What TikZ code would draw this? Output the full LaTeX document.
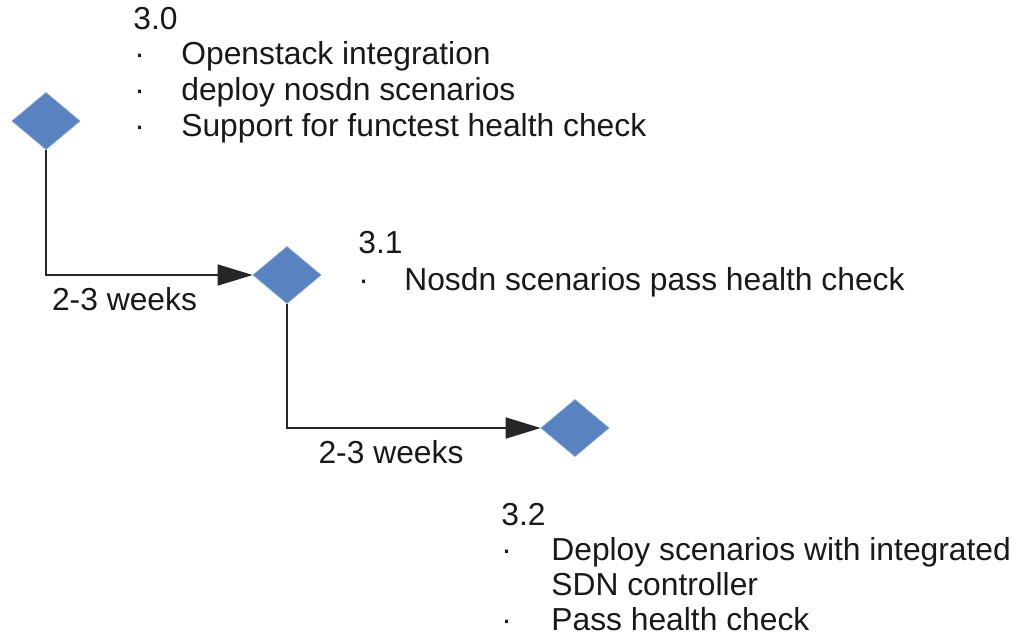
\documentclass[tikz,border=0pt]{standalone}
\usepackage{fontspec}
\setmainfont{Liberation Sans}
\usetikzlibrary{arrows.meta,shapes.geometric}

\definecolor{msfill}{RGB}{88,131,192}
\definecolor{msdraw}{RGB}{118,156,210}
\definecolor{txt}{RGB}{25,25,25}

\tikzset{
  milestone/.style={diamond, draw=msdraw, fill=msfill, line width=0.4pt, inner sep=0pt, minimum width=1.36cm, minimum height=1.14cm},
  line/.style={draw=black!85, line width=1pt, -{Triangle[length=20pt,width=12pt]}},
  rel/.style={anchor=base west, inner sep=0pt, text=txt, font=\fontsize{18.1}{21}\selectfont},
  weeks/.style={below, inner sep=6.5pt, text=txt, font=\fontsize{18.1}{21}\selectfont}
}

\begin{document}
\begin{tikzpicture}[x=0.02cm, y=-0.02cm]
\useasboundingbox (0,0) rectangle (1017,637);

\node[milestone] (M30) at (46,121) {};
\node[milestone] (M31) at (287,275) {};
\node[milestone] (M32) at (575,428) {};

% release 3.0
\node[rel] (R30) at (133,29) {3.0};
\node[rel] (B30a) at (134,64) {·};
\node[rel] (T30a) at (181,64) {Openstack integration};
\node[rel] (B30b) at (134,100) {·};
\node[rel] (T30b) at (181,100) {deploy nosdn scenarios};
\node[rel] (B30c) at (134,136) {·};
\node[rel] (T30c) at (181,136) {Support for functest health check};

% release 3.1
\node[rel] (R31) at (358,253) {3.1};
\node[rel] (B31a) at (358,290) {·};
\node[rel] (T31a) at (404,290) {Nosdn scenarios pass health check};

% release 3.2
\node[rel] (R32) at (501,525) {3.2};
\node[rel] (B32a) at (501,560) {·};
\node[rel] (T32a) at (551,560) {Deploy scenarios with integrated};
\node[rel] (T32b) at (551,595) {SDN controller};
\node[rel] (B32b) at (501,630) {·};
\node[rel] (T32c) at (551,630) {Pass health check};

\draw[line] (M30) |- node[weeks, pos=0.69] (W1) {2-3 weeks} (M31);
\draw[line] (M31) |- node[weeks, pos=0.705] (W2) {2-3 weeks} (M32);

\end{tikzpicture}
\end{document}
